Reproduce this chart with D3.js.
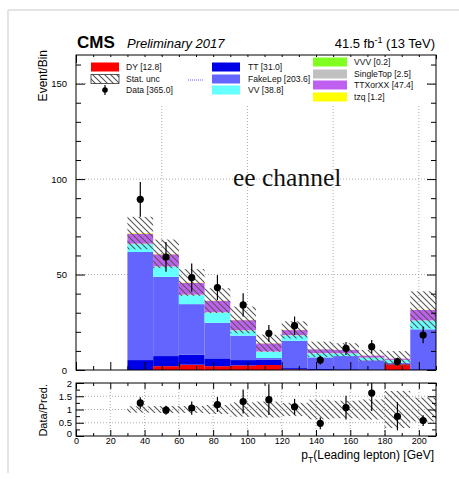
<!DOCTYPE html>
<html>
<head>
<meta charset="utf-8">
<script src="https://cdn.jsdelivr.net/npm/d3@7"></script>
<style>
  body { margin: 0; background: #fff; }
  svg { font-family: "Liberation Sans", Arial, sans-serif; }
</style>
</head>
<body>
<div id="chart"></div>
<script>
let W = 459, H = 479;

// bins in pT(leading lepton), 15 GeV wide
let binLow  = [30, 45, 60, 75, 90, 105, 120, 135, 150, 165, 180, 195];
let binHigh = [45, 60, 75, 90, 105, 120, 135, 150, 165, 180, 195, 210];

// stacked backgrounds, bottom first
let dy        = [0, 2.0, 2.8, 2.0, 2.4, 2.6, 0.3, 0, 0, 0, 3.0, 0];
let tt        = [5.2, 5.3, 5.2, 4.1, 2.8, 2.7, 0.7, 0.5, 0.4, 0.3, 0.2, 0.4];
let fakeLep   = [56.6, 41.5, 26.5, 18.6, 12.8, 1.0, 14.3, 6.1, 6.9, 4.8, 0.6, 20.9];
let vv        = [4.1, 5.2, 4.7, 5.3, 2.6, 3.2, 2.8, 2.1, 1.4, 1.3, 1.4, 4.5];
let singleTop = [0.3, 0.3, 0.3, 0.3, 0.3, 0.2, 0.2, 0.2, 0.1, 0.1, 0.1, 0.2];
let vvv       = [0.02, 0.02, 0.02, 0.02, 0.02, 0.02, 0.02, 0.01, 0.01, 0.01, 0.01, 0.02];
let ttXorXX   = [5.2, 6.3, 6.1, 5.9, 5.2, 4.2, 2.6, 1.9, 1.7, 1.0, 0.6, 5.4];
let tzq       = [0.3, 0.2, 0.2, 0.1, 0.1, 0.1, 0.1, 0.05, 0.02, 0.02, 0.01, 0.1];
let statUnc   = [8.5, 7.5, 7.0, 6.5, 7.0, 4.5, 4.5, 4.0, 3.5, 3.0, 4.0, 9.7];

// data
let dataVal = [89.4, 59.2, 48.4, 43.2, 34.1, 19.2, 23.2, 5.2, 11.3, 12.2, 4.4, 18.3];
let dataErr = [9.1, 7.8, 7.4, 6.5, 6.1, 4.4, 4.8, 2.3, 3.4, 3.5, 2.1, 4.3];
let ratioErr = [0.22, 0.17, 0.25, 0.28, 0.45, 0.58, 0.3, 0.22, 0.45, 0.68, 0.53, 0.2];
let ratioBand = [0.12, 0.13, 0.13, 0.17, 0.27, 0.3, 0.25, 0.37, 0.33, 0.38, 0.7, 0.45];

let procs = [
  { name: 'DY', vals: dy, color: '#ff0000' },
  { name: 'TT', vals: tt, color: '#0000e6' },
  { name: 'FakeLep', vals: fakeLep, color: '#6464ff' },
  { name: 'VV', vals: vv, color: '#66ffff' },
  { name: 'SingleTop', vals: singleTop, color: '#c0c0c0' },
  { name: 'VVV', vals: vvv, color: '#80ff20' },
  { name: 'TTXorXX', vals: ttXorXX, color: '#c060f0' },
  { name: 'tzq', vals: tzq, color: '#ffff00' }
];

let legendCols = [
  [ { label: 'DY [12.8]', type: 'box', color: '#ff0000' },
    { label: 'Stat. unc', type: 'hatch' },
    { label: 'Data [365.0]', type: 'data' } ],
  [ { label: 'TT [31.0]', type: 'box', color: '#0000e6' },
    { label: 'FakeLep [203.6]', type: 'box', color: '#6464ff', dotted: true },
    { label: 'VV [38.8]', type: 'box', color: '#66ffff' } ],
  [ { label: 'VVV [0.2]', type: 'box', color: '#80ff20' },
    { label: 'SingleTop [2.5]', type: 'box', color: '#c0c0c0' },
    { label: 'TTXorXX [47.4]', type: 'box', color: '#c060f0' },
    { label: 'tzq [1.2]', type: 'box', color: '#ffff00' } ]
];

let svg = d3.select('#chart').append('svg').attr('width', W).attr('height', H);

let defs = svg.append('defs');
defs.append('pattern').attr('id', 'hatch').attr('patternUnits', 'userSpaceOnUse')
  .attr('width', 6).attr('height', 6)
  .append('path').attr('d', 'M0,0L6,6M-1,5L1,7M5,-1L7,1')
  .attr('stroke', '#555').attr('stroke-width', 1.1);

// page border like the screenshot
svg.append('line').attr('x1', 8).attr('x2', W).attr('y1', 10).attr('y2', 10)
  .attr('stroke', '#e4e4e4').attr('stroke-width', 2);
svg.append('line').attr('x1', 8).attr('x2', 8).attr('y1', 10).attr('y2', 473)
  .attr('stroke', '#e4e4e4').attr('stroke-width', 2);

let L = 76, R = 436, top1 = 55, bot1 = 370, top2 = 383, bot2 = 436;
let x = d3.scaleLinear().domain([0, 210]).range([L, R]);
let y = d3.scaleLinear().domain([0, 165]).range([bot1, top1]);
let yr = d3.scaleLinear().domain([0, 2]).range([bot2, top2]);

let gMain = svg.append('g');
let gRat = svg.append('g');

// grids
let grid = (g, x1, x2, y1, y2) => g.append('line').attr('x1', x1).attr('x2', x2).attr('y1', y1).attr('y2', y2)
  .attr('stroke', '#999').attr('stroke-width', 0.8).attr('stroke-dasharray', '1,2');
[50, 100, 150, 200].forEach(v => grid(gMain, x(v), x(v), top1, bot1));
[50, 100, 150].forEach(v => grid(gMain, L, R, y(v), y(v)));
d3.range(20, 210, 20).forEach(v => grid(gRat, x(v), x(v), top2, bot2));
[0.5, 1, 1.5].forEach(v => grid(gRat, L, R, yr(v), yr(v)));

// stack
let totals = binLow.map(() => 0);
procs.forEach(p => {
  binLow.forEach((lo, i) => {
    let base = totals[i];
    totals[i] += p.vals[i];
    if (p.vals[i] <= 0) return;
    gMain.append('rect')
      .attr('x', x(lo)).attr('width', x(binHigh[i]) - x(lo))
      .attr('y', y(totals[i])).attr('height', y(base) - y(totals[i]))
      .attr('fill', p.color);
  });
});

// stat uncertainty band
binLow.forEach((lo, i) => {
  gMain.append('rect')
    .attr('x', x(lo)).attr('width', x(binHigh[i]) - x(lo))
    .attr('y', y(totals[i] + statUnc[i])).attr('height', y(totals[i] - statUnc[i]) - y(totals[i] + statUnc[i]))
    .attr('fill', 'url(#hatch)');
  gRat.append('rect')
    .attr('x', x(lo)).attr('width', x(binHigh[i]) - x(lo))
    .attr('y', yr(1 + ratioBand[i])).attr('height', yr(1 - ratioBand[i]) - yr(1 + ratioBand[i]))
    .attr('fill', 'url(#hatch)');
});

// data points
binLow.forEach((lo, i) => {
  let cx = x((lo + binHigh[i]) / 2);
  gMain.append('line').attr('x1', cx).attr('x2', cx)
    .attr('y1', y(dataVal[i] - dataErr[i])).attr('y2', y(dataVal[i] + dataErr[i]))
    .attr('stroke', '#000').attr('stroke-width', 1.2);
  gMain.append('circle').attr('cx', cx).attr('cy', y(dataVal[i])).attr('r', 3.6).attr('fill', '#000');
  let r = dataVal[i] / totals[i];
  gRat.append('line').attr('x1', cx).attr('x2', cx)
    .attr('y1', yr(r - ratioErr[i])).attr('y2', yr(Math.min(2, r + ratioErr[i])))
    .attr('stroke', '#000').attr('stroke-width', 1.2);
  gRat.append('circle').attr('cx', cx).attr('cy', yr(r)).attr('r', 3.6).attr('fill', '#000');
});

// axes (ROOT style, ticks inside)
let styleAxis = g => {
  g.select('.domain').remove();
  g.selectAll('line').attr('stroke', '#000');
  g.selectAll('text').attr('font-family', null).attr('fill', '#000');
};
let tickSet = (g, axisFn, scale, major, minor, len, lenMinor, labels, pad, fs) => {
  g.append('g').call(axisFn(scale).tickValues(minor).tickSize(-lenMinor).tickFormat('')).call(styleAxis);
  let a = g.append('g').call(axisFn(scale).tickValues(major).tickSize(-len).tickPadding(pad)
    .tickFormat(labels ? d3.format('') : '')).call(styleAxis);
  a.selectAll('text').attr('font-size', fs);
  return a;
};

let xMajor = d3.range(0, 211, 20), xMinor = d3.range(10, 211, 20);
tickSet(gMain.append('g').attr('transform', `translate(0,${bot1})`), d3.axisBottom, x, xMajor, xMinor, 8, 4, false, 0, 9);
tickSet(gMain.append('g').attr('transform', `translate(0,${top1})`), d3.axisTop, x, xMajor, xMinor, 8, 4, false, 0, 9);
tickSet(gMain.append('g').attr('transform', `translate(${L},0)`), d3.axisLeft, y, [0, 50, 100, 150], d3.range(10, 165, 10).filter(v => v % 50), 9, 5, true, 9, 9.5);
tickSet(gMain.append('g').attr('transform', `translate(${R},0)`), d3.axisRight, y, [0, 50, 100, 150], d3.range(10, 165, 10).filter(v => v % 50), 9, 5, false, 0, 9);

tickSet(gRat.append('g').attr('transform', `translate(0,${bot2})`), d3.axisBottom, x, xMajor, xMinor, 6, 3, true, 2, 9);
tickSet(gRat.append('g').attr('transform', `translate(0,${top2})`), d3.axisTop, x, xMajor, xMinor, 6, 3, false, 0, 9);
let ratMajor = [0, 0.5, 1, 1.5, 2], ratMinor = [0.25, 0.75, 1.25, 1.75];
let ra = tickSet(gRat.append('g').attr('transform', `translate(${L},0)`), d3.axisLeft, yr, ratMajor, ratMinor, 8, 4, true, 4, 9.5);
ra.selectAll('text').filter(d => d === 0).attr('dy', '0.1em');
tickSet(gRat.append('g').attr('transform', `translate(${R},0)`), d3.axisRight, yr, ratMajor, ratMinor, 8, 4, false, 0, 9);

// frames
gMain.append('rect').attr('x', L).attr('y', top1).attr('width', R - L).attr('height', bot1 - top1)
  .attr('fill', 'none').attr('stroke', '#000').attr('stroke-width', 1);
gRat.append('rect').attr('x', L).attr('y', top2).attr('width', R - L).attr('height', bot2 - top2)
  .attr('fill', 'none').attr('stroke', '#000').attr('stroke-width', 1);

// legend (white box hides the grid behind it)
svg.append('rect').attr('x', L + 10).attr('y', top1 + 2).attr('width', R - L - 20).attr('height', 47).attr('fill', '#fff');
let colX = [91, 212, 313], colTx = [126, 248, 354];
let colRows = [[67, 79, 90], [67, 79, 90], [62, 74, 85, 97]];
let swW = [28, 28, 34];
legendCols.forEach((col, c) => {
  col.forEach((e, r) => {
    let yy = colRows[c][r];
    if (e.type === 'box') {
      svg.append('rect').attr('x', colX[c]).attr('y', yy - 4.5).attr('width', swW[c]).attr('height', 9).attr('fill', e.color);
    } else if (e.type === 'hatch') {
      svg.append('rect').attr('x', colX[c]).attr('y', yy - 4.5).attr('width', swW[c]).attr('height', 9)
        .attr('fill', 'url(#hatch)').attr('stroke', '#333').attr('stroke-width', 0.8);
    } else {
      let cx = colX[c] + swW[c] / 2;
      svg.append('line').attr('x1', cx).attr('x2', cx).attr('y1', yy - 5).attr('y2', yy + 5).attr('stroke', '#000').attr('stroke-width', 1.2);
      svg.append('circle').attr('cx', cx).attr('cy', yy).attr('r', 2.8).attr('fill', '#000');
    }
    if (e.dotted) {
      svg.append('line').attr('x1', 188).attr('x2', 203).attr('y1', yy + 1).attr('y2', yy + 1)
        .attr('stroke', '#3c3cff').attr('stroke-width', 0.8).attr('stroke-dasharray', '1,1');
    }
    svg.append('text').attr('x', colTx[c]).attr('y', yy + 3.3).attr('font-size', 8.6).attr('fill', '#111').text(e.label);
  });
});

// titles
svg.append('text').attr('x', 77).attr('y', 48).attr('font-size', 17).attr('font-weight', 'bold').text('CMS');
svg.append('text').attr('x', 127).attr('y', 48).attr('font-size', 13).attr('font-style', 'italic').text('Preliminary 2017');
let lumi = svg.append('text').attr('x', 435).attr('y', 48).attr('font-size', 13).attr('text-anchor', 'end');
lumi.append('tspan').text('41.5 fb');
lumi.append('tspan').attr('font-size', 9).attr('dy', -5).text('-1');
lumi.append('tspan').attr('dy', 5).text(' (13 TeV)');

svg.append('text').attr('transform', 'translate(47,50) rotate(-90)').attr('text-anchor', 'end')
  .attr('font-size', 12).text('Event/Bin');
svg.append('text').attr('transform', 'translate(47,384) rotate(-90)').attr('text-anchor', 'end')
  .attr('font-size', 11).text('Data/Pred.');

let xt = svg.append('text').attr('x', 434).attr('y', 459).attr('font-size', 12).attr('text-anchor', 'end');
xt.append('tspan').text('p');
xt.append('tspan').attr('font-size', 8.5).attr('dy', 4).text('T');
xt.append('tspan').attr('dy', -4).text('(Leading lepton) [GeV]');

svg.append('text').attr('x', 233).attr('y', 186).attr('font-size', 25.5)
  .style('font-family', '"Liberation Serif", "Times New Roman", serif').attr('fill', '#111').text('ee channel');
</script>
</body>
</html>
